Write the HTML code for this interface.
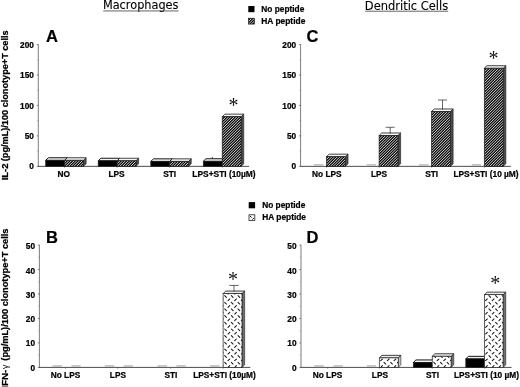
<!DOCTYPE html>
<html lang="en"><head><meta charset="utf-8"><title>Figure</title>
<style>html,body{margin:0;padding:0;background:#fff}body{width:520px;height:387px;overflow:hidden}svg{display:block;filter:blur(0.3px)}</style>
</head><body>
<svg width="520" height="387" viewBox="0 0 520 387" font-family='"Liberation Sans", sans-serif' fill="#000">
<rect width="520" height="387" fill="#fff"/>
<text x="102.9" y="9.4" font-family='"DejaVu Sans", "Liberation Sans", sans-serif' font-size="11.5" fill="#000" stroke="#000" stroke-width="0.12" textLength="75.6" lengthAdjust="spacingAndGlyphs">Macrophages</text>
<rect x="103.2" y="10.5" width="75.3" height="0.9" fill="#555"/>
<text x="364.8" y="9.55" font-family='"DejaVu Sans", "Liberation Sans", sans-serif' font-size="11.9" fill="#000" stroke="#000" stroke-width="0.12" textLength="83.4" lengthAdjust="spacingAndGlyphs">Dendritic Cells</text>
<rect x="365.2" y="10.75" width="83" height="0.9" fill="#555"/>
<rect x="248.3" y="6" width="6.2" height="6.2" fill="#000"/>
<clipPath id="c1"><rect x="248.50" y="18.20" width="5.90" height="5.90"/></clipPath>
<rect x="248.50" y="18.20" width="5.90" height="5.90" fill="#0c0c0c"/>
<path clip-path="url(#c1)" d="M239.50,25.10l7.90,-7.90M242.20,25.10l7.90,-7.90M244.90,25.10l7.90,-7.90M247.60,25.10l7.90,-7.90M250.30,25.10l7.90,-7.90M253.00,25.10l7.90,-7.90M255.70,25.10l7.90,-7.90" stroke="#ececec" stroke-width="0.9" fill="none"/>
<rect x="248.5" y="18.2" width="5.9" height="5.9" fill="none" stroke="#111" stroke-width="0.6"/>
<text x="261.30" y="11.50" text-anchor="start" font-size="8.4" font-weight="bold" stroke="#000" stroke-width="0.22"  textLength="43.0" lengthAdjust="spacingAndGlyphs">No peptide</text>
<text x="261.30" y="24.00" text-anchor="start" font-size="8.4" font-weight="bold" stroke="#000" stroke-width="0.22"  textLength="44.0" lengthAdjust="spacingAndGlyphs">HA peptide</text>
<rect x="248.7" y="202.1" width="6.4" height="6.2" fill="#000"/>
<rect x="249" y="214.8" width="5.8" height="5.7" fill="#fff" stroke="#222" stroke-width="0.8"/>
<path d="M250,215.9l1.7,1.7M254,217.9l-1.7,1.7" stroke="#111" stroke-width="1.0"/>
<text x="262.20" y="208.00" text-anchor="start" font-size="8.4" font-weight="bold" stroke="#000" stroke-width="0.22"  textLength="43.1" lengthAdjust="spacingAndGlyphs">No peptide</text>
<text x="262.20" y="220.40" text-anchor="start" font-size="8.4" font-weight="bold" stroke="#000" stroke-width="0.22"  textLength="43.8" lengthAdjust="spacingAndGlyphs">HA peptide</text>
<text x="46.00" y="42.00" text-anchor="start" font-size="16.5" font-weight="bold" stroke="#000" stroke-width="0.22" >A</text>
<text x="46.00" y="242.50" text-anchor="start" font-size="16.5" font-weight="bold" stroke="#000" stroke-width="0.22" >B</text>
<text x="306.50" y="42.00" text-anchor="start" font-size="16.5" font-weight="bold" stroke="#000" stroke-width="0.22" >C</text>
<text x="306.50" y="242.50" text-anchor="start" font-size="16.5" font-weight="bold" stroke="#000" stroke-width="0.22" >D</text>
<g aria-label="IL-2 (pg/mL)/100 clonotype+T cells">
<text transform="translate(8.2,180.3) rotate(-90)" font-size="8.5" font-weight="bold" stroke="#000" stroke-width="0.25" textLength="16.8" lengthAdjust="spacingAndGlyphs">IL-2</text>
<text transform="translate(8.2,161.2) rotate(-90)" font-size="8.5" font-weight="bold" stroke="#000" stroke-width="0.25" textLength="130.8" lengthAdjust="spacingAndGlyphs">(pg/mL)/100 clonotype+T cells</text>
</g><g aria-label="IFN-γ (pg/mL)/100 clonotype+T cells">
<text transform="translate(8.4,388.7) rotate(-90)" font-size="8.5" font-weight="bold" stroke="#000" stroke-width="0.25" textLength="19.1" lengthAdjust="spacingAndGlyphs">IFN-</text>
<text transform="translate(8.3,368.9) rotate(-90)" font-size="8.6" font-weight="normal" stroke="#000" stroke-width="0.1">γ</text>
<text transform="translate(8.4,360.7) rotate(-90)" font-size="8.5" font-weight="bold" stroke="#000" stroke-width="0.25" textLength="132.2" lengthAdjust="spacingAndGlyphs">(pg/mL)/100 clonotype+T cells</text>
</g>
<path d="M38.30,44.20V166.35" stroke="#5c5c5c" stroke-width="0.8" fill="none"/>
<path d="M37.90,166.35H249.10" stroke="#2c2c2c" stroke-width="0.85" fill="none"/>
<path d="M36.70,44.50H38.30" stroke="#555" stroke-width="0.7"/>
<path d="M37.30,59.73H38.30" stroke="#777" stroke-width="0.6"/>
<text x="33.90" y="48.15" text-anchor="end" font-size="8.3" font-weight="bold" stroke="#000" stroke-width="0.22" >200</text>
<path d="M36.70,74.96H38.30" stroke="#555" stroke-width="0.7"/>
<path d="M37.30,90.19H38.30" stroke="#777" stroke-width="0.6"/>
<text x="33.90" y="78.48" text-anchor="end" font-size="8.3" font-weight="bold" stroke="#000" stroke-width="0.22" >150</text>
<path d="M36.70,105.42H38.30" stroke="#555" stroke-width="0.7"/>
<path d="M37.30,120.66H38.30" stroke="#777" stroke-width="0.6"/>
<text x="33.90" y="108.81" text-anchor="end" font-size="8.3" font-weight="bold" stroke="#000" stroke-width="0.22" >100</text>
<path d="M36.70,135.89H38.30" stroke="#555" stroke-width="0.7"/>
<path d="M37.30,151.12H38.30" stroke="#777" stroke-width="0.6"/>
<text x="33.90" y="139.14" text-anchor="end" font-size="8.3" font-weight="bold" stroke="#000" stroke-width="0.22" >50</text>
<path d="M36.70,166.35H38.30" stroke="#555" stroke-width="0.7"/>
<text x="33.90" y="169.47" text-anchor="end" font-size="8.3" font-weight="bold" stroke="#000" stroke-width="0.22" >0</text>
<path d="M64.60,166.35v1.3" stroke="#555" stroke-width="0.7"/>
<path d="M117.10,166.35v1.3" stroke="#555" stroke-width="0.7"/>
<path d="M169.70,166.35v1.3" stroke="#555" stroke-width="0.7"/>
<path d="M222.20,166.35v1.3" stroke="#555" stroke-width="0.7"/>
<polygon points="64.60,160.30 67.25,157.75 67.25,163.80 64.60,166.35" fill="#000" stroke="#222" stroke-width="0.6"/>
<polygon points="45.70,160.30 48.35,157.75 67.25,157.75 64.60,160.30" fill="#f4f4f4" stroke="#141414" stroke-width="1.0" stroke-linejoin="round"/>
<rect x="45.70" y="160.30" width="18.90" height="6.05" fill="#000"/>
<rect x="45.70" y="160.30" width="18.90" height="6.05" fill="none" stroke="#222" stroke-width="0.7"/>
<polygon points="83.50,160.30 86.15,157.75 86.15,163.80 83.50,166.35" fill="#4a4a4a" stroke="#222" stroke-width="0.6"/>
<polygon points="64.60,160.30 67.25,157.75 86.15,157.75 83.50,160.30" fill="#f6f6f6" stroke="#141414" stroke-width="0.8" stroke-linejoin="round"/>
<clipPath id="c2"><rect x="64.60" y="160.30" width="18.90" height="6.05"/></clipPath>
<rect x="64.60" y="160.30" width="18.90" height="6.05" fill="#0c0c0c"/>
<path clip-path="url(#c2)" d="M54.05,167.35l8.05,-8.05M56.75,167.35l8.05,-8.05M59.45,167.35l8.05,-8.05M62.15,167.35l8.05,-8.05M64.85,167.35l8.05,-8.05M67.55,167.35l8.05,-8.05M70.25,167.35l8.05,-8.05M72.95,167.35l8.05,-8.05M75.65,167.35l8.05,-8.05M78.35,167.35l8.05,-8.05M81.05,167.35l8.05,-8.05M83.75,167.35l8.05,-8.05M86.45,167.35l8.05,-8.05" stroke="#ececec" stroke-width="0.9" fill="none"/>
<rect x="64.60" y="160.30" width="18.90" height="6.05" fill="none" stroke="#222" stroke-width="0.7"/>
<polygon points="117.10,160.80 119.75,158.25 119.75,163.80 117.10,166.35" fill="#000" stroke="#222" stroke-width="0.6"/>
<polygon points="98.20,160.80 100.85,158.25 119.75,158.25 117.10,160.80" fill="#f4f4f4" stroke="#141414" stroke-width="1.0" stroke-linejoin="round"/>
<rect x="98.20" y="160.80" width="18.90" height="5.55" fill="#000"/>
<rect x="98.20" y="160.80" width="18.90" height="5.55" fill="none" stroke="#222" stroke-width="0.7"/>
<polygon points="136.00,160.80 138.65,158.25 138.65,163.80 136.00,166.35" fill="#4a4a4a" stroke="#222" stroke-width="0.6"/>
<polygon points="117.10,160.80 119.75,158.25 138.65,158.25 136.00,160.80" fill="#f6f6f6" stroke="#141414" stroke-width="0.8" stroke-linejoin="round"/>
<clipPath id="c3"><rect x="117.10" y="160.80" width="18.90" height="5.55"/></clipPath>
<rect x="117.10" y="160.80" width="18.90" height="5.55" fill="#0c0c0c"/>
<path clip-path="url(#c3)" d="M108.05,167.35l7.55,-7.55M110.75,167.35l7.55,-7.55M113.45,167.35l7.55,-7.55M116.15,167.35l7.55,-7.55M118.85,167.35l7.55,-7.55M121.55,167.35l7.55,-7.55M124.25,167.35l7.55,-7.55M126.95,167.35l7.55,-7.55M129.65,167.35l7.55,-7.55M132.35,167.35l7.55,-7.55M135.05,167.35l7.55,-7.55M137.75,167.35l7.55,-7.55" stroke="#ececec" stroke-width="0.9" fill="none"/>
<rect x="117.10" y="160.80" width="18.90" height="5.55" fill="none" stroke="#222" stroke-width="0.7"/>
<polygon points="169.70,161.40 172.35,158.85 172.35,163.80 169.70,166.35" fill="#000" stroke="#222" stroke-width="0.6"/>
<polygon points="150.80,161.40 153.45,158.85 172.35,158.85 169.70,161.40" fill="#f4f4f4" stroke="#141414" stroke-width="1.0" stroke-linejoin="round"/>
<rect x="150.80" y="161.40" width="18.90" height="4.95" fill="#000"/>
<rect x="150.80" y="161.40" width="18.90" height="4.95" fill="none" stroke="#222" stroke-width="0.7"/>
<polygon points="188.60,161.40 191.25,158.85 191.25,163.80 188.60,166.35" fill="#4a4a4a" stroke="#222" stroke-width="0.6"/>
<polygon points="169.70,161.40 172.35,158.85 191.25,158.85 188.60,161.40" fill="#f6f6f6" stroke="#141414" stroke-width="0.8" stroke-linejoin="round"/>
<clipPath id="c4"><rect x="169.70" y="161.40" width="18.90" height="4.95"/></clipPath>
<rect x="169.70" y="161.40" width="18.90" height="4.95" fill="#0c0c0c"/>
<path clip-path="url(#c4)" d="M159.35,167.35l6.95,-6.95M162.05,167.35l6.95,-6.95M164.75,167.35l6.95,-6.95M167.45,167.35l6.95,-6.95M170.15,167.35l6.95,-6.95M172.85,167.35l6.95,-6.95M175.55,167.35l6.95,-6.95M178.25,167.35l6.95,-6.95M180.95,167.35l6.95,-6.95M183.65,167.35l6.95,-6.95M186.35,167.35l6.95,-6.95M189.05,167.35l6.95,-6.95M191.75,167.35l6.95,-6.95" stroke="#ececec" stroke-width="0.9" fill="none"/>
<rect x="169.70" y="161.40" width="18.90" height="4.95" fill="none" stroke="#222" stroke-width="0.7"/>
<polygon points="222.20,161.30 224.85,158.75 224.85,163.80 222.20,166.35" fill="#000" stroke="#222" stroke-width="0.6"/>
<polygon points="203.30,161.30 205.95,158.75 224.85,158.75 222.20,161.30" fill="#f4f4f4" stroke="#141414" stroke-width="1.0" stroke-linejoin="round"/>
<rect x="203.30" y="161.30" width="18.90" height="5.05" fill="#000"/>
<rect x="203.30" y="161.30" width="18.90" height="5.05" fill="none" stroke="#222" stroke-width="0.7"/>
<polygon points="241.10,116.70 243.75,114.15 243.75,163.80 241.10,166.35" fill="#4a4a4a" stroke="#222" stroke-width="0.6"/>
<polygon points="222.20,116.70 224.85,114.15 243.75,114.15 241.10,116.70" fill="#f6f6f6" stroke="#141414" stroke-width="0.8" stroke-linejoin="round"/>
<clipPath id="c5"><rect x="222.20" y="116.70" width="18.90" height="49.65"/></clipPath>
<rect x="222.20" y="116.70" width="18.90" height="49.65" fill="#0c0c0c"/>
<path clip-path="url(#c5)" d="M167.45,167.35l51.65,-51.65M170.15,167.35l51.65,-51.65M172.85,167.35l51.65,-51.65M175.55,167.35l51.65,-51.65M178.25,167.35l51.65,-51.65M180.95,167.35l51.65,-51.65M183.65,167.35l51.65,-51.65M186.35,167.35l51.65,-51.65M189.05,167.35l51.65,-51.65M191.75,167.35l51.65,-51.65M194.45,167.35l51.65,-51.65M197.15,167.35l51.65,-51.65M199.85,167.35l51.65,-51.65M202.55,167.35l51.65,-51.65M205.25,167.35l51.65,-51.65M207.95,167.35l51.65,-51.65M210.65,167.35l51.65,-51.65M213.35,167.35l51.65,-51.65M216.05,167.35l51.65,-51.65M218.75,167.35l51.65,-51.65M221.45,167.35l51.65,-51.65M224.15,167.35l51.65,-51.65M226.85,167.35l51.65,-51.65M229.55,167.35l51.65,-51.65M232.25,167.35l51.65,-51.65M234.95,167.35l51.65,-51.65M237.65,167.35l51.65,-51.65M240.35,167.35l51.65,-51.65M243.05,167.35l51.65,-51.65" stroke="#ececec" stroke-width="0.9" fill="none"/>
<rect x="222.20" y="116.70" width="18.90" height="49.65" fill="none" stroke="#222" stroke-width="0.7"/>
<path d="M212.3,156.9V159" stroke="#222" stroke-width="0.8"/>
<text x="233.50" y="111.80" text-anchor="middle" font-family='"Liberation Serif", serif' font-size="20" fill="#111">*</text>
<text x="63.80" y="177.10" text-anchor="middle" font-size="8.3" font-weight="bold" stroke="#000" stroke-width="0.22" >NO</text>
<text x="116.60" y="177.10" text-anchor="middle" font-size="8.3" font-weight="bold" stroke="#000" stroke-width="0.22" >LPS</text>
<text x="169.70" y="177.10" text-anchor="middle" font-size="8.3" font-weight="bold" stroke="#000" stroke-width="0.22" >STI</text>
<text x="224.00" y="177.10" text-anchor="middle" font-size="8.3" font-weight="bold" stroke="#000" stroke-width="0.22"  textLength="63.3" lengthAdjust="spacingAndGlyphs">LPS+STI (10µM)</text>
<path d="M300.60,44.20V166.35" stroke="#5c5c5c" stroke-width="0.8" fill="none"/>
<path d="M300.20,166.35H510.80" stroke="#2c2c2c" stroke-width="0.85" fill="none"/>
<path d="M299.00,44.50H300.60" stroke="#555" stroke-width="0.7"/>
<path d="M299.60,59.73H300.60" stroke="#777" stroke-width="0.6"/>
<text x="296.20" y="48.15" text-anchor="end" font-size="8.3" font-weight="bold" stroke="#000" stroke-width="0.22" >200</text>
<path d="M299.00,74.96H300.60" stroke="#555" stroke-width="0.7"/>
<path d="M299.60,90.19H300.60" stroke="#777" stroke-width="0.6"/>
<text x="296.20" y="78.48" text-anchor="end" font-size="8.3" font-weight="bold" stroke="#000" stroke-width="0.22" >150</text>
<path d="M299.00,105.42H300.60" stroke="#555" stroke-width="0.7"/>
<path d="M299.60,120.66H300.60" stroke="#777" stroke-width="0.6"/>
<text x="296.20" y="108.81" text-anchor="end" font-size="8.3" font-weight="bold" stroke="#000" stroke-width="0.22" >100</text>
<path d="M299.00,135.89H300.60" stroke="#555" stroke-width="0.7"/>
<path d="M299.60,151.12H300.60" stroke="#777" stroke-width="0.6"/>
<text x="296.20" y="139.14" text-anchor="end" font-size="8.3" font-weight="bold" stroke="#000" stroke-width="0.22" >50</text>
<path d="M299.00,166.35H300.60" stroke="#555" stroke-width="0.7"/>
<text x="296.20" y="169.47" text-anchor="end" font-size="8.3" font-weight="bold" stroke="#000" stroke-width="0.22" >0</text>
<path d="M326.50,166.35v1.3" stroke="#555" stroke-width="0.7"/>
<path d="M379.10,166.35v1.3" stroke="#555" stroke-width="0.7"/>
<path d="M431.60,166.35v1.3" stroke="#555" stroke-width="0.7"/>
<path d="M484.30,166.35v1.3" stroke="#555" stroke-width="0.7"/>
<rect x="314.00" y="164.20" width="9.30" height="1.4" fill="#b6b6b6"/>
<rect x="366.60" y="164.20" width="9.30" height="1.4" fill="#b6b6b6"/>
<rect x="419.10" y="164.20" width="9.30" height="1.4" fill="#b6b6b6"/>
<rect x="471.80" y="164.20" width="9.30" height="1.4" fill="#b6b6b6"/>
<polygon points="345.40,156.72 348.05,154.17 348.05,163.80 345.40,166.35" fill="#4a4a4a" stroke="#222" stroke-width="0.6"/>
<polygon points="326.50,156.72 329.15,154.17 348.05,154.17 345.40,156.72" fill="#f6f6f6" stroke="#141414" stroke-width="0.8" stroke-linejoin="round"/>
<clipPath id="c6"><rect x="326.50" y="156.72" width="18.90" height="9.63"/></clipPath>
<rect x="326.50" y="156.72" width="18.90" height="9.63" fill="#0c0c0c"/>
<path clip-path="url(#c6)" d="M313.25,167.35l11.63,-11.63M315.95,167.35l11.63,-11.63M318.65,167.35l11.63,-11.63M321.35,167.35l11.63,-11.63M324.05,167.35l11.63,-11.63M326.75,167.35l11.63,-11.63M329.45,167.35l11.63,-11.63M332.15,167.35l11.63,-11.63M334.85,167.35l11.63,-11.63M337.55,167.35l11.63,-11.63M340.25,167.35l11.63,-11.63M342.95,167.35l11.63,-11.63M345.65,167.35l11.63,-11.63M348.35,167.35l11.63,-11.63" stroke="#ececec" stroke-width="0.9" fill="none"/>
<rect x="326.50" y="156.72" width="18.90" height="9.63" fill="none" stroke="#222" stroke-width="0.7"/>
<polygon points="398.00,135.52 400.65,132.97 400.65,163.80 398.00,166.35" fill="#4a4a4a" stroke="#222" stroke-width="0.6"/>
<polygon points="379.10,135.52 381.75,132.97 400.65,132.97 398.00,135.52" fill="#f6f6f6" stroke="#141414" stroke-width="0.8" stroke-linejoin="round"/>
<clipPath id="c7"><rect x="379.10" y="135.52" width="18.90" height="30.83"/></clipPath>
<rect x="379.10" y="135.52" width="18.90" height="30.83" fill="#0c0c0c"/>
<path clip-path="url(#c7)" d="M342.95,167.35l32.83,-32.83M345.65,167.35l32.83,-32.83M348.35,167.35l32.83,-32.83M351.05,167.35l32.83,-32.83M353.75,167.35l32.83,-32.83M356.45,167.35l32.83,-32.83M359.15,167.35l32.83,-32.83M361.85,167.35l32.83,-32.83M364.55,167.35l32.83,-32.83M367.25,167.35l32.83,-32.83M369.95,167.35l32.83,-32.83M372.65,167.35l32.83,-32.83M375.35,167.35l32.83,-32.83M378.05,167.35l32.83,-32.83M380.75,167.35l32.83,-32.83M383.45,167.35l32.83,-32.83M386.15,167.35l32.83,-32.83M388.85,167.35l32.83,-32.83M391.55,167.35l32.83,-32.83M394.25,167.35l32.83,-32.83M396.95,167.35l32.83,-32.83M399.65,167.35l32.83,-32.83" stroke="#ececec" stroke-width="0.9" fill="none"/>
<rect x="379.10" y="135.52" width="18.90" height="30.83" fill="none" stroke="#222" stroke-width="0.7"/>
<polygon points="450.50,111.52 453.15,108.97 453.15,163.80 450.50,166.35" fill="#4a4a4a" stroke="#222" stroke-width="0.6"/>
<polygon points="431.60,111.52 434.25,108.97 453.15,108.97 450.50,111.52" fill="#f6f6f6" stroke="#141414" stroke-width="0.8" stroke-linejoin="round"/>
<clipPath id="c8"><rect x="431.60" y="111.52" width="18.90" height="54.83"/></clipPath>
<rect x="431.60" y="111.52" width="18.90" height="54.83" fill="#0c0c0c"/>
<path clip-path="url(#c8)" d="M372.65,167.35l56.83,-56.83M375.35,167.35l56.83,-56.83M378.05,167.35l56.83,-56.83M380.75,167.35l56.83,-56.83M383.45,167.35l56.83,-56.83M386.15,167.35l56.83,-56.83M388.85,167.35l56.83,-56.83M391.55,167.35l56.83,-56.83M394.25,167.35l56.83,-56.83M396.95,167.35l56.83,-56.83M399.65,167.35l56.83,-56.83M402.35,167.35l56.83,-56.83M405.05,167.35l56.83,-56.83M407.75,167.35l56.83,-56.83M410.45,167.35l56.83,-56.83M413.15,167.35l56.83,-56.83M415.85,167.35l56.83,-56.83M418.55,167.35l56.83,-56.83M421.25,167.35l56.83,-56.83M423.95,167.35l56.83,-56.83M426.65,167.35l56.83,-56.83M429.35,167.35l56.83,-56.83M432.05,167.35l56.83,-56.83M434.75,167.35l56.83,-56.83M437.45,167.35l56.83,-56.83M440.15,167.35l56.83,-56.83M442.85,167.35l56.83,-56.83M445.55,167.35l56.83,-56.83M448.25,167.35l56.83,-56.83M450.95,167.35l56.83,-56.83M453.65,167.35l56.83,-56.83" stroke="#ececec" stroke-width="0.9" fill="none"/>
<rect x="431.60" y="111.52" width="18.90" height="54.83" fill="none" stroke="#222" stroke-width="0.7"/>
<polygon points="503.20,68.26 505.85,65.71 505.85,163.80 503.20,166.35" fill="#4a4a4a" stroke="#222" stroke-width="0.6"/>
<polygon points="484.30,68.26 486.95,65.71 505.85,65.71 503.20,68.26" fill="#f6f6f6" stroke="#141414" stroke-width="0.8" stroke-linejoin="round"/>
<clipPath id="c9"><rect x="484.30" y="68.26" width="18.90" height="98.09"/></clipPath>
<rect x="484.30" y="68.26" width="18.90" height="98.09" fill="#0c0c0c"/>
<path clip-path="url(#c9)" d="M380.75,167.35l100.09,-100.09M383.45,167.35l100.09,-100.09M386.15,167.35l100.09,-100.09M388.85,167.35l100.09,-100.09M391.55,167.35l100.09,-100.09M394.25,167.35l100.09,-100.09M396.95,167.35l100.09,-100.09M399.65,167.35l100.09,-100.09M402.35,167.35l100.09,-100.09M405.05,167.35l100.09,-100.09M407.75,167.35l100.09,-100.09M410.45,167.35l100.09,-100.09M413.15,167.35l100.09,-100.09M415.85,167.35l100.09,-100.09M418.55,167.35l100.09,-100.09M421.25,167.35l100.09,-100.09M423.95,167.35l100.09,-100.09M426.65,167.35l100.09,-100.09M429.35,167.35l100.09,-100.09M432.05,167.35l100.09,-100.09M434.75,167.35l100.09,-100.09M437.45,167.35l100.09,-100.09M440.15,167.35l100.09,-100.09M442.85,167.35l100.09,-100.09M445.55,167.35l100.09,-100.09M448.25,167.35l100.09,-100.09M450.95,167.35l100.09,-100.09M453.65,167.35l100.09,-100.09M456.35,167.35l100.09,-100.09M459.05,167.35l100.09,-100.09M461.75,167.35l100.09,-100.09M464.45,167.35l100.09,-100.09M467.15,167.35l100.09,-100.09M469.85,167.35l100.09,-100.09M472.55,167.35l100.09,-100.09M475.25,167.35l100.09,-100.09M477.95,167.35l100.09,-100.09M480.65,167.35l100.09,-100.09M483.35,167.35l100.09,-100.09M486.05,167.35l100.09,-100.09M488.75,167.35l100.09,-100.09M491.45,167.35l100.09,-100.09M494.15,167.35l100.09,-100.09M496.85,167.35l100.09,-100.09M499.55,167.35l100.09,-100.09M502.25,167.35l100.09,-100.09M504.95,167.35l100.09,-100.09" stroke="#ececec" stroke-width="0.9" fill="none"/>
<rect x="484.30" y="68.26" width="18.90" height="98.09" fill="none" stroke="#222" stroke-width="0.7"/>
<path d="M385.70,127.30H394.70M390.20,127.30V133.90" stroke="#333" stroke-width="0.75" fill="none"/>
<path d="M438.00,100.00H447.00M442.50,100.00V109.60" stroke="#333" stroke-width="0.75" fill="none"/>
<text x="493.40" y="64.50" text-anchor="middle" font-family='"Liberation Serif", serif' font-size="20" fill="#111">*</text>
<text x="326.80" y="177.10" text-anchor="middle" font-size="8.3" font-weight="bold" stroke="#000" stroke-width="0.22" >No LPS</text>
<text x="379.00" y="177.10" text-anchor="middle" font-size="8.3" font-weight="bold" stroke="#000" stroke-width="0.22" >LPS</text>
<text x="431.60" y="177.10" text-anchor="middle" font-size="8.3" font-weight="bold" stroke="#000" stroke-width="0.22" >STI</text>
<text x="486.00" y="177.10" text-anchor="middle" font-size="8.3" font-weight="bold" stroke="#000" stroke-width="0.22"  textLength="65.2" lengthAdjust="spacingAndGlyphs">LPS+STI (10 µM)</text>
<path d="M39.40,244.80V367.40" stroke="#5c5c5c" stroke-width="0.8" fill="none"/>
<path d="M39.00,367.40H250.30" stroke="#2c2c2c" stroke-width="0.85" fill="none"/>
<path d="M37.80,245.10H39.40" stroke="#555" stroke-width="0.7"/>
<path d="M38.40,257.33H39.40" stroke="#777" stroke-width="0.6"/>
<text x="35.00" y="249.35" text-anchor="end" font-size="8.3" font-weight="bold" stroke="#000" stroke-width="0.22" >50</text>
<path d="M37.80,269.56H39.40" stroke="#555" stroke-width="0.7"/>
<path d="M38.40,281.79H39.40" stroke="#777" stroke-width="0.6"/>
<text x="35.00" y="273.63" text-anchor="end" font-size="8.3" font-weight="bold" stroke="#000" stroke-width="0.22" >40</text>
<path d="M37.80,294.02H39.40" stroke="#555" stroke-width="0.7"/>
<path d="M38.40,306.25H39.40" stroke="#777" stroke-width="0.6"/>
<text x="35.00" y="297.91" text-anchor="end" font-size="8.3" font-weight="bold" stroke="#000" stroke-width="0.22" >30</text>
<path d="M37.80,318.48H39.40" stroke="#555" stroke-width="0.7"/>
<path d="M38.40,330.71H39.40" stroke="#777" stroke-width="0.6"/>
<text x="35.00" y="322.19" text-anchor="end" font-size="8.3" font-weight="bold" stroke="#000" stroke-width="0.22" >20</text>
<path d="M37.80,342.94H39.40" stroke="#555" stroke-width="0.7"/>
<path d="M38.40,355.17H39.40" stroke="#777" stroke-width="0.6"/>
<text x="35.00" y="346.47" text-anchor="end" font-size="8.3" font-weight="bold" stroke="#000" stroke-width="0.22" >10</text>
<path d="M37.80,367.40H39.40" stroke="#555" stroke-width="0.7"/>
<text x="35.00" y="370.75" text-anchor="end" font-size="8.3" font-weight="bold" stroke="#000" stroke-width="0.22" >0</text>
<path d="M65.60,367.40v1.3" stroke="#555" stroke-width="0.7"/>
<path d="M117.90,367.40v1.3" stroke="#555" stroke-width="0.7"/>
<path d="M170.70,367.40v1.3" stroke="#555" stroke-width="0.7"/>
<path d="M223.10,367.40v1.3" stroke="#555" stroke-width="0.7"/>
<rect x="52.50" y="365.25" width="9.50" height="1.4" fill="#b6b6b6"/>
<rect x="71.40" y="365.25" width="9.20" height="1.4" fill="#b6b6b6"/>
<rect x="104.80" y="365.25" width="9.50" height="1.4" fill="#b6b6b6"/>
<rect x="123.70" y="365.25" width="9.20" height="1.4" fill="#b6b6b6"/>
<rect x="157.60" y="365.25" width="9.50" height="1.4" fill="#b6b6b6"/>
<rect x="176.50" y="365.25" width="9.20" height="1.4" fill="#b6b6b6"/>
<rect x="210.00" y="365.25" width="9.50" height="1.4" fill="#b6b6b6"/>
<polygon points="242.00,293.60 244.65,291.05 244.65,364.85 242.00,367.40" fill="#707070" stroke="#222" stroke-width="0.6"/>
<polygon points="223.10,293.60 225.75,291.05 244.65,291.05 242.00,293.60" fill="#ececec" stroke="#141414" stroke-width="0.8" stroke-linejoin="round"/>
<clipPath id="c10"><rect x="223.10" y="293.60" width="18.90" height="73.80"/></clipPath>
<rect x="223.10" y="293.60" width="18.90" height="73.80" fill="#fff"/>
<path clip-path="url(#c10)" d="M218.03,282.31l1.70,1.70M221.37,287.35l1.70,-1.70M224.70,282.31l1.70,1.70M228.03,287.35l1.70,-1.70M231.37,282.31l1.70,1.70M234.70,287.35l1.70,-1.70M238.04,282.31l1.70,1.70M241.38,287.35l1.70,-1.70M244.71,282.31l1.70,1.70M248.04,287.35l1.70,-1.70M251.38,282.31l1.70,1.70M254.72,287.35l1.70,-1.70M218.03,288.98l1.70,1.70M221.37,294.01l1.70,-1.70M224.70,288.98l1.70,1.70M228.03,294.01l1.70,-1.70M231.37,288.98l1.70,1.70M234.70,294.01l1.70,-1.70M238.04,288.98l1.70,1.70M241.38,294.01l1.70,-1.70M244.71,288.98l1.70,1.70M248.04,294.01l1.70,-1.70M251.38,288.98l1.70,1.70M254.72,294.01l1.70,-1.70M218.03,295.65l1.70,1.70M221.37,300.69l1.70,-1.70M224.70,295.65l1.70,1.70M228.03,300.69l1.70,-1.70M231.37,295.65l1.70,1.70M234.70,300.69l1.70,-1.70M238.04,295.65l1.70,1.70M241.38,300.69l1.70,-1.70M244.71,295.65l1.70,1.70M248.04,300.69l1.70,-1.70M251.38,295.65l1.70,1.70M254.72,300.69l1.70,-1.70M218.03,302.32l1.70,1.70M221.37,307.36l1.70,-1.70M224.70,302.32l1.70,1.70M228.03,307.36l1.70,-1.70M231.37,302.32l1.70,1.70M234.70,307.36l1.70,-1.70M238.04,302.32l1.70,1.70M241.38,307.36l1.70,-1.70M244.71,302.32l1.70,1.70M248.04,307.36l1.70,-1.70M251.38,302.32l1.70,1.70M254.72,307.36l1.70,-1.70M218.03,308.99l1.70,1.70M221.37,314.02l1.70,-1.70M224.70,308.99l1.70,1.70M228.03,314.02l1.70,-1.70M231.37,308.99l1.70,1.70M234.70,314.02l1.70,-1.70M238.04,308.99l1.70,1.70M241.38,314.02l1.70,-1.70M244.71,308.99l1.70,1.70M248.04,314.02l1.70,-1.70M251.38,308.99l1.70,1.70M254.72,314.02l1.70,-1.70M218.03,315.66l1.70,1.70M221.37,320.69l1.70,-1.70M224.70,315.66l1.70,1.70M228.03,320.69l1.70,-1.70M231.37,315.66l1.70,1.70M234.70,320.69l1.70,-1.70M238.04,315.66l1.70,1.70M241.38,320.69l1.70,-1.70M244.71,315.66l1.70,1.70M248.04,320.69l1.70,-1.70M251.38,315.66l1.70,1.70M254.72,320.69l1.70,-1.70M218.03,322.33l1.70,1.70M221.37,327.37l1.70,-1.70M224.70,322.33l1.70,1.70M228.03,327.37l1.70,-1.70M231.37,322.33l1.70,1.70M234.70,327.37l1.70,-1.70M238.04,322.33l1.70,1.70M241.38,327.37l1.70,-1.70M244.71,322.33l1.70,1.70M248.04,327.37l1.70,-1.70M251.38,322.33l1.70,1.70M254.72,327.37l1.70,-1.70M218.03,329.00l1.70,1.70M221.37,334.04l1.70,-1.70M224.70,329.00l1.70,1.70M228.03,334.04l1.70,-1.70M231.37,329.00l1.70,1.70M234.70,334.04l1.70,-1.70M238.04,329.00l1.70,1.70M241.38,334.04l1.70,-1.70M244.71,329.00l1.70,1.70M248.04,334.04l1.70,-1.70M251.38,329.00l1.70,1.70M254.72,334.04l1.70,-1.70M218.03,335.67l1.70,1.70M221.37,340.70l1.70,-1.70M224.70,335.67l1.70,1.70M228.03,340.70l1.70,-1.70M231.37,335.67l1.70,1.70M234.70,340.70l1.70,-1.70M238.04,335.67l1.70,1.70M241.38,340.70l1.70,-1.70M244.71,335.67l1.70,1.70M248.04,340.70l1.70,-1.70M251.38,335.67l1.70,1.70M254.72,340.70l1.70,-1.70M218.03,342.34l1.70,1.70M221.37,347.38l1.70,-1.70M224.70,342.34l1.70,1.70M228.03,347.38l1.70,-1.70M231.37,342.34l1.70,1.70M234.70,347.38l1.70,-1.70M238.04,342.34l1.70,1.70M241.38,347.38l1.70,-1.70M244.71,342.34l1.70,1.70M248.04,347.38l1.70,-1.70M251.38,342.34l1.70,1.70M254.72,347.38l1.70,-1.70M218.03,349.01l1.70,1.70M221.37,354.05l1.70,-1.70M224.70,349.01l1.70,1.70M228.03,354.05l1.70,-1.70M231.37,349.01l1.70,1.70M234.70,354.05l1.70,-1.70M238.04,349.01l1.70,1.70M241.38,354.05l1.70,-1.70M244.71,349.01l1.70,1.70M248.04,354.05l1.70,-1.70M251.38,349.01l1.70,1.70M254.72,354.05l1.70,-1.70M218.03,355.68l1.70,1.70M221.37,360.71l1.70,-1.70M224.70,355.68l1.70,1.70M228.03,360.71l1.70,-1.70M231.37,355.68l1.70,1.70M234.70,360.71l1.70,-1.70M238.04,355.68l1.70,1.70M241.38,360.71l1.70,-1.70M244.71,355.68l1.70,1.70M248.04,360.71l1.70,-1.70M251.38,355.68l1.70,1.70M254.72,360.71l1.70,-1.70M218.03,362.35l1.70,1.70M221.37,367.38l1.70,-1.70M224.70,362.35l1.70,1.70M228.03,367.38l1.70,-1.70M231.37,362.35l1.70,1.70M234.70,367.38l1.70,-1.70M238.04,362.35l1.70,1.70M241.38,367.38l1.70,-1.70M244.71,362.35l1.70,1.70M248.04,367.38l1.70,-1.70M251.38,362.35l1.70,1.70M254.72,367.38l1.70,-1.70M218.03,369.02l1.70,1.70M221.37,374.06l1.70,-1.70M224.70,369.02l1.70,1.70M228.03,374.06l1.70,-1.70M231.37,369.02l1.70,1.70M234.70,374.06l1.70,-1.70M238.04,369.02l1.70,1.70M241.38,374.06l1.70,-1.70M244.71,369.02l1.70,1.70M248.04,374.06l1.70,-1.70M251.38,369.02l1.70,1.70M254.72,374.06l1.70,-1.70M218.03,375.69l1.70,1.70M221.37,380.72l1.70,-1.70M224.70,375.69l1.70,1.70M228.03,380.72l1.70,-1.70M231.37,375.69l1.70,1.70M234.70,380.72l1.70,-1.70M238.04,375.69l1.70,1.70M241.38,380.72l1.70,-1.70M244.71,375.69l1.70,1.70M248.04,380.72l1.70,-1.70M251.38,375.69l1.70,1.70M254.72,380.72l1.70,-1.70" stroke="#1a1a1a" stroke-width="1.05" stroke-linecap="round" fill="none"/>
<rect x="223.10" y="293.60" width="18.90" height="73.80" fill="none" stroke="#222" stroke-width="0.7"/>
<path d="M229.20,285.40H238.80M234.00,285.40V291.60" stroke="#333" stroke-width="0.75" fill="none"/>
<text x="233.10" y="285.60" text-anchor="middle" font-family='"Liberation Serif", serif' font-size="20" fill="#111">*</text>
<text x="65.50" y="378.00" text-anchor="middle" font-size="8.3" font-weight="bold" stroke="#000" stroke-width="0.22" >No LPS</text>
<text x="117.90" y="378.00" text-anchor="middle" font-size="8.3" font-weight="bold" stroke="#000" stroke-width="0.22" >LPS</text>
<text x="170.90" y="378.00" text-anchor="middle" font-size="8.3" font-weight="bold" stroke="#000" stroke-width="0.22" >STI</text>
<text x="224.50" y="378.00" text-anchor="middle" font-size="8.3" font-weight="bold" stroke="#000" stroke-width="0.22"  textLength="62.5" lengthAdjust="spacingAndGlyphs">LPS+STI (10µM)</text>
<path d="M301.00,244.80V367.40" stroke="#5c5c5c" stroke-width="0.8" fill="none"/>
<path d="M300.60,367.40H511.60" stroke="#2c2c2c" stroke-width="0.85" fill="none"/>
<path d="M299.40,245.10H301.00" stroke="#555" stroke-width="0.7"/>
<path d="M300.00,257.33H301.00" stroke="#777" stroke-width="0.6"/>
<text x="296.60" y="249.35" text-anchor="end" font-size="8.3" font-weight="bold" stroke="#000" stroke-width="0.22" >50</text>
<path d="M299.40,269.56H301.00" stroke="#555" stroke-width="0.7"/>
<path d="M300.00,281.79H301.00" stroke="#777" stroke-width="0.6"/>
<text x="296.60" y="273.63" text-anchor="end" font-size="8.3" font-weight="bold" stroke="#000" stroke-width="0.22" >40</text>
<path d="M299.40,294.02H301.00" stroke="#555" stroke-width="0.7"/>
<path d="M300.00,306.25H301.00" stroke="#777" stroke-width="0.6"/>
<text x="296.60" y="297.91" text-anchor="end" font-size="8.3" font-weight="bold" stroke="#000" stroke-width="0.22" >30</text>
<path d="M299.40,318.48H301.00" stroke="#555" stroke-width="0.7"/>
<path d="M300.00,330.71H301.00" stroke="#777" stroke-width="0.6"/>
<text x="296.60" y="322.19" text-anchor="end" font-size="8.3" font-weight="bold" stroke="#000" stroke-width="0.22" >20</text>
<path d="M299.40,342.94H301.00" stroke="#555" stroke-width="0.7"/>
<path d="M300.00,355.17H301.00" stroke="#777" stroke-width="0.6"/>
<text x="296.60" y="346.47" text-anchor="end" font-size="8.3" font-weight="bold" stroke="#000" stroke-width="0.22" >10</text>
<path d="M299.40,367.40H301.00" stroke="#555" stroke-width="0.7"/>
<text x="296.60" y="370.75" text-anchor="end" font-size="8.3" font-weight="bold" stroke="#000" stroke-width="0.22" >0</text>
<path d="M327.70,367.40v1.3" stroke="#555" stroke-width="0.7"/>
<path d="M379.30,367.40v1.3" stroke="#555" stroke-width="0.7"/>
<path d="M432.20,367.40v1.3" stroke="#555" stroke-width="0.7"/>
<path d="M484.70,367.40v1.3" stroke="#555" stroke-width="0.7"/>
<rect x="314.30" y="365.25" width="9.50" height="1.4" fill="#b6b6b6"/>
<rect x="333.50" y="365.25" width="9.20" height="1.4" fill="#b6b6b6"/>
<rect x="366.90" y="365.25" width="9.20" height="1.4" fill="#b6b6b6"/>
<polygon points="398.20,357.90 400.85,355.35 400.85,364.85 398.20,367.40" fill="#c4c4c4" stroke="#222" stroke-width="0.6"/>
<polygon points="379.30,357.90 381.95,355.35 400.85,355.35 398.20,357.90" fill="#ececec" stroke="#141414" stroke-width="0.8" stroke-linejoin="round"/>
<clipPath id="c11"><rect x="379.30" y="357.90" width="18.90" height="9.50"/></clipPath>
<rect x="379.30" y="357.90" width="18.90" height="9.50" fill="#fff"/>
<path clip-path="url(#c11)" d="M377.38,349.01l1.70,1.70M380.71,354.05l1.70,-1.70M384.05,349.01l1.70,1.70M387.38,354.05l1.70,-1.70M390.72,349.01l1.70,1.70M394.06,354.05l1.70,-1.70M397.39,349.01l1.70,1.70M400.72,354.05l1.70,-1.70M404.06,349.01l1.70,1.70M407.39,354.05l1.70,-1.70M410.73,349.01l1.70,1.70M414.06,354.05l1.70,-1.70M377.38,355.68l1.70,1.70M380.71,360.71l1.70,-1.70M384.05,355.68l1.70,1.70M387.38,360.71l1.70,-1.70M390.72,355.68l1.70,1.70M394.06,360.71l1.70,-1.70M397.39,355.68l1.70,1.70M400.72,360.71l1.70,-1.70M404.06,355.68l1.70,1.70M407.39,360.71l1.70,-1.70M410.73,355.68l1.70,1.70M414.06,360.71l1.70,-1.70M377.38,362.35l1.70,1.70M380.71,367.38l1.70,-1.70M384.05,362.35l1.70,1.70M387.38,367.38l1.70,-1.70M390.72,362.35l1.70,1.70M394.06,367.38l1.70,-1.70M397.39,362.35l1.70,1.70M400.72,367.38l1.70,-1.70M404.06,362.35l1.70,1.70M407.39,367.38l1.70,-1.70M410.73,362.35l1.70,1.70M414.06,367.38l1.70,-1.70M377.38,369.02l1.70,1.70M380.71,374.06l1.70,-1.70M384.05,369.02l1.70,1.70M387.38,374.06l1.70,-1.70M390.72,369.02l1.70,1.70M394.06,374.06l1.70,-1.70M397.39,369.02l1.70,1.70M400.72,374.06l1.70,-1.70M404.06,369.02l1.70,1.70M407.39,374.06l1.70,-1.70M410.73,369.02l1.70,1.70M414.06,374.06l1.70,-1.70M377.38,375.69l1.70,1.70M380.71,380.72l1.70,-1.70M384.05,375.69l1.70,1.70M387.38,380.72l1.70,-1.70M390.72,375.69l1.70,1.70M394.06,380.72l1.70,-1.70M397.39,375.69l1.70,1.70M400.72,380.72l1.70,-1.70M404.06,375.69l1.70,1.70M407.39,380.72l1.70,-1.70M410.73,375.69l1.70,1.70M414.06,380.72l1.70,-1.70" stroke="#1a1a1a" stroke-width="1.05" stroke-linecap="round" fill="none"/>
<rect x="379.30" y="357.90" width="18.90" height="9.50" fill="none" stroke="#222" stroke-width="0.7"/>
<polygon points="432.20,362.50 434.85,359.95 434.85,364.85 432.20,367.40" fill="#000" stroke="#222" stroke-width="0.6"/>
<polygon points="413.30,362.50 415.95,359.95 434.85,359.95 432.20,362.50" fill="#f4f4f4" stroke="#141414" stroke-width="1.0" stroke-linejoin="round"/>
<rect x="413.30" y="362.50" width="18.90" height="4.90" fill="#000"/>
<rect x="413.30" y="362.50" width="18.90" height="4.90" fill="none" stroke="#222" stroke-width="0.7"/>
<polygon points="451.10,356.30 453.75,353.75 453.75,364.85 451.10,367.40" fill="#707070" stroke="#222" stroke-width="0.6"/>
<polygon points="432.20,356.30 434.85,353.75 453.75,353.75 451.10,356.30" fill="#ececec" stroke="#141414" stroke-width="0.8" stroke-linejoin="round"/>
<clipPath id="c12"><rect x="432.20" y="356.30" width="18.90" height="11.10"/></clipPath>
<rect x="432.20" y="356.30" width="18.90" height="11.10" fill="#fff"/>
<path clip-path="url(#c12)" d="M427.13,342.34l1.70,1.70M430.46,347.38l1.70,-1.70M433.80,342.34l1.70,1.70M437.13,347.38l1.70,-1.70M440.47,342.34l1.70,1.70M443.80,347.38l1.70,-1.70M447.14,342.34l1.70,1.70M450.47,347.38l1.70,-1.70M453.81,342.34l1.70,1.70M457.14,347.38l1.70,-1.70M460.48,342.34l1.70,1.70M463.81,347.38l1.70,-1.70M427.13,349.01l1.70,1.70M430.46,354.05l1.70,-1.70M433.80,349.01l1.70,1.70M437.13,354.05l1.70,-1.70M440.47,349.01l1.70,1.70M443.80,354.05l1.70,-1.70M447.14,349.01l1.70,1.70M450.47,354.05l1.70,-1.70M453.81,349.01l1.70,1.70M457.14,354.05l1.70,-1.70M460.48,349.01l1.70,1.70M463.81,354.05l1.70,-1.70M427.13,355.68l1.70,1.70M430.46,360.71l1.70,-1.70M433.80,355.68l1.70,1.70M437.13,360.71l1.70,-1.70M440.47,355.68l1.70,1.70M443.80,360.71l1.70,-1.70M447.14,355.68l1.70,1.70M450.47,360.71l1.70,-1.70M453.81,355.68l1.70,1.70M457.14,360.71l1.70,-1.70M460.48,355.68l1.70,1.70M463.81,360.71l1.70,-1.70M427.13,362.35l1.70,1.70M430.46,367.38l1.70,-1.70M433.80,362.35l1.70,1.70M437.13,367.38l1.70,-1.70M440.47,362.35l1.70,1.70M443.80,367.38l1.70,-1.70M447.14,362.35l1.70,1.70M450.47,367.38l1.70,-1.70M453.81,362.35l1.70,1.70M457.14,367.38l1.70,-1.70M460.48,362.35l1.70,1.70M463.81,367.38l1.70,-1.70M427.13,369.02l1.70,1.70M430.46,374.06l1.70,-1.70M433.80,369.02l1.70,1.70M437.13,374.06l1.70,-1.70M440.47,369.02l1.70,1.70M443.80,374.06l1.70,-1.70M447.14,369.02l1.70,1.70M450.47,374.06l1.70,-1.70M453.81,369.02l1.70,1.70M457.14,374.06l1.70,-1.70M460.48,369.02l1.70,1.70M463.81,374.06l1.70,-1.70M427.13,375.69l1.70,1.70M430.46,380.72l1.70,-1.70M433.80,375.69l1.70,1.70M437.13,380.72l1.70,-1.70M440.47,375.69l1.70,1.70M443.80,380.72l1.70,-1.70M447.14,375.69l1.70,1.70M450.47,380.72l1.70,-1.70M453.81,375.69l1.70,1.70M457.14,380.72l1.70,-1.70M460.48,375.69l1.70,1.70M463.81,380.72l1.70,-1.70" stroke="#1a1a1a" stroke-width="1.05" stroke-linecap="round" fill="none"/>
<rect x="432.20" y="356.30" width="18.90" height="11.10" fill="none" stroke="#222" stroke-width="0.7"/>
<polygon points="484.70,358.90 487.35,356.35 487.35,364.85 484.70,367.40" fill="#000" stroke="#222" stroke-width="0.6"/>
<polygon points="465.80,358.90 468.45,356.35 487.35,356.35 484.70,358.90" fill="#f4f4f4" stroke="#141414" stroke-width="1.0" stroke-linejoin="round"/>
<rect x="465.80" y="358.90" width="18.90" height="8.50" fill="#000"/>
<rect x="465.80" y="358.90" width="18.90" height="8.50" fill="none" stroke="#222" stroke-width="0.7"/>
<polygon points="503.10,294.70 505.75,292.15 505.75,364.85 503.10,367.40" fill="#707070" stroke="#222" stroke-width="0.6"/>
<polygon points="484.50,294.70 487.15,292.15 505.75,292.15 503.10,294.70" fill="#ececec" stroke="#141414" stroke-width="0.8" stroke-linejoin="round"/>
<clipPath id="c13"><rect x="484.50" y="294.70" width="18.60" height="72.70"/></clipPath>
<rect x="484.50" y="294.70" width="18.60" height="72.70" fill="#fff"/>
<path clip-path="url(#c13)" d="M482.28,282.31l1.70,1.70M485.61,287.35l1.70,-1.70M488.95,282.31l1.70,1.70M492.28,287.35l1.70,-1.70M495.62,282.31l1.70,1.70M498.95,287.35l1.70,-1.70M502.29,282.31l1.70,1.70M505.62,287.35l1.70,-1.70M508.96,282.31l1.70,1.70M512.29,287.35l1.70,-1.70M515.63,282.31l1.70,1.70M518.97,287.35l1.70,-1.70M482.28,288.98l1.70,1.70M485.61,294.01l1.70,-1.70M488.95,288.98l1.70,1.70M492.28,294.01l1.70,-1.70M495.62,288.98l1.70,1.70M498.95,294.01l1.70,-1.70M502.29,288.98l1.70,1.70M505.62,294.01l1.70,-1.70M508.96,288.98l1.70,1.70M512.29,294.01l1.70,-1.70M515.63,288.98l1.70,1.70M518.97,294.01l1.70,-1.70M482.28,295.65l1.70,1.70M485.61,300.69l1.70,-1.70M488.95,295.65l1.70,1.70M492.28,300.69l1.70,-1.70M495.62,295.65l1.70,1.70M498.95,300.69l1.70,-1.70M502.29,295.65l1.70,1.70M505.62,300.69l1.70,-1.70M508.96,295.65l1.70,1.70M512.29,300.69l1.70,-1.70M515.63,295.65l1.70,1.70M518.97,300.69l1.70,-1.70M482.28,302.32l1.70,1.70M485.61,307.36l1.70,-1.70M488.95,302.32l1.70,1.70M492.28,307.36l1.70,-1.70M495.62,302.32l1.70,1.70M498.95,307.36l1.70,-1.70M502.29,302.32l1.70,1.70M505.62,307.36l1.70,-1.70M508.96,302.32l1.70,1.70M512.29,307.36l1.70,-1.70M515.63,302.32l1.70,1.70M518.97,307.36l1.70,-1.70M482.28,308.99l1.70,1.70M485.61,314.02l1.70,-1.70M488.95,308.99l1.70,1.70M492.28,314.02l1.70,-1.70M495.62,308.99l1.70,1.70M498.95,314.02l1.70,-1.70M502.29,308.99l1.70,1.70M505.62,314.02l1.70,-1.70M508.96,308.99l1.70,1.70M512.29,314.02l1.70,-1.70M515.63,308.99l1.70,1.70M518.97,314.02l1.70,-1.70M482.28,315.66l1.70,1.70M485.61,320.69l1.70,-1.70M488.95,315.66l1.70,1.70M492.28,320.69l1.70,-1.70M495.62,315.66l1.70,1.70M498.95,320.69l1.70,-1.70M502.29,315.66l1.70,1.70M505.62,320.69l1.70,-1.70M508.96,315.66l1.70,1.70M512.29,320.69l1.70,-1.70M515.63,315.66l1.70,1.70M518.97,320.69l1.70,-1.70M482.28,322.33l1.70,1.70M485.61,327.37l1.70,-1.70M488.95,322.33l1.70,1.70M492.28,327.37l1.70,-1.70M495.62,322.33l1.70,1.70M498.95,327.37l1.70,-1.70M502.29,322.33l1.70,1.70M505.62,327.37l1.70,-1.70M508.96,322.33l1.70,1.70M512.29,327.37l1.70,-1.70M515.63,322.33l1.70,1.70M518.97,327.37l1.70,-1.70M482.28,329.00l1.70,1.70M485.61,334.04l1.70,-1.70M488.95,329.00l1.70,1.70M492.28,334.04l1.70,-1.70M495.62,329.00l1.70,1.70M498.95,334.04l1.70,-1.70M502.29,329.00l1.70,1.70M505.62,334.04l1.70,-1.70M508.96,329.00l1.70,1.70M512.29,334.04l1.70,-1.70M515.63,329.00l1.70,1.70M518.97,334.04l1.70,-1.70M482.28,335.67l1.70,1.70M485.61,340.70l1.70,-1.70M488.95,335.67l1.70,1.70M492.28,340.70l1.70,-1.70M495.62,335.67l1.70,1.70M498.95,340.70l1.70,-1.70M502.29,335.67l1.70,1.70M505.62,340.70l1.70,-1.70M508.96,335.67l1.70,1.70M512.29,340.70l1.70,-1.70M515.63,335.67l1.70,1.70M518.97,340.70l1.70,-1.70M482.28,342.34l1.70,1.70M485.61,347.38l1.70,-1.70M488.95,342.34l1.70,1.70M492.28,347.38l1.70,-1.70M495.62,342.34l1.70,1.70M498.95,347.38l1.70,-1.70M502.29,342.34l1.70,1.70M505.62,347.38l1.70,-1.70M508.96,342.34l1.70,1.70M512.29,347.38l1.70,-1.70M515.63,342.34l1.70,1.70M518.97,347.38l1.70,-1.70M482.28,349.01l1.70,1.70M485.61,354.05l1.70,-1.70M488.95,349.01l1.70,1.70M492.28,354.05l1.70,-1.70M495.62,349.01l1.70,1.70M498.95,354.05l1.70,-1.70M502.29,349.01l1.70,1.70M505.62,354.05l1.70,-1.70M508.96,349.01l1.70,1.70M512.29,354.05l1.70,-1.70M515.63,349.01l1.70,1.70M518.97,354.05l1.70,-1.70M482.28,355.68l1.70,1.70M485.61,360.71l1.70,-1.70M488.95,355.68l1.70,1.70M492.28,360.71l1.70,-1.70M495.62,355.68l1.70,1.70M498.95,360.71l1.70,-1.70M502.29,355.68l1.70,1.70M505.62,360.71l1.70,-1.70M508.96,355.68l1.70,1.70M512.29,360.71l1.70,-1.70M515.63,355.68l1.70,1.70M518.97,360.71l1.70,-1.70M482.28,362.35l1.70,1.70M485.61,367.38l1.70,-1.70M488.95,362.35l1.70,1.70M492.28,367.38l1.70,-1.70M495.62,362.35l1.70,1.70M498.95,367.38l1.70,-1.70M502.29,362.35l1.70,1.70M505.62,367.38l1.70,-1.70M508.96,362.35l1.70,1.70M512.29,367.38l1.70,-1.70M515.63,362.35l1.70,1.70M518.97,367.38l1.70,-1.70M482.28,369.02l1.70,1.70M485.61,374.06l1.70,-1.70M488.95,369.02l1.70,1.70M492.28,374.06l1.70,-1.70M495.62,369.02l1.70,1.70M498.95,374.06l1.70,-1.70M502.29,369.02l1.70,1.70M505.62,374.06l1.70,-1.70M508.96,369.02l1.70,1.70M512.29,374.06l1.70,-1.70M515.63,369.02l1.70,1.70M518.97,374.06l1.70,-1.70M482.28,375.69l1.70,1.70M485.61,380.72l1.70,-1.70M488.95,375.69l1.70,1.70M492.28,380.72l1.70,-1.70M495.62,375.69l1.70,1.70M498.95,380.72l1.70,-1.70M502.29,375.69l1.70,1.70M505.62,380.72l1.70,-1.70M508.96,375.69l1.70,1.70M512.29,380.72l1.70,-1.70M515.63,375.69l1.70,1.70M518.97,380.72l1.70,-1.70" stroke="#1a1a1a" stroke-width="1.05" stroke-linecap="round" fill="none"/>
<rect x="484.50" y="294.70" width="18.60" height="72.70" fill="none" stroke="#222" stroke-width="0.7"/>
<text x="495.20" y="289.50" text-anchor="middle" font-family='"Liberation Serif", serif' font-size="20" fill="#111">*</text>
<text x="327.50" y="378.00" text-anchor="middle" font-size="8.3" font-weight="bold" stroke="#000" stroke-width="0.22" >No LPS</text>
<text x="379.90" y="378.00" text-anchor="middle" font-size="8.3" font-weight="bold" stroke="#000" stroke-width="0.22" >LPS</text>
<text x="432.50" y="378.00" text-anchor="middle" font-size="8.3" font-weight="bold" stroke="#000" stroke-width="0.22" >STI</text>
<text x="486.50" y="378.00" text-anchor="middle" font-size="8.3" font-weight="bold" stroke="#000" stroke-width="0.22"  textLength="65.0" lengthAdjust="spacingAndGlyphs">LPS+STI (10 µM)</text>
</svg></body></html>
